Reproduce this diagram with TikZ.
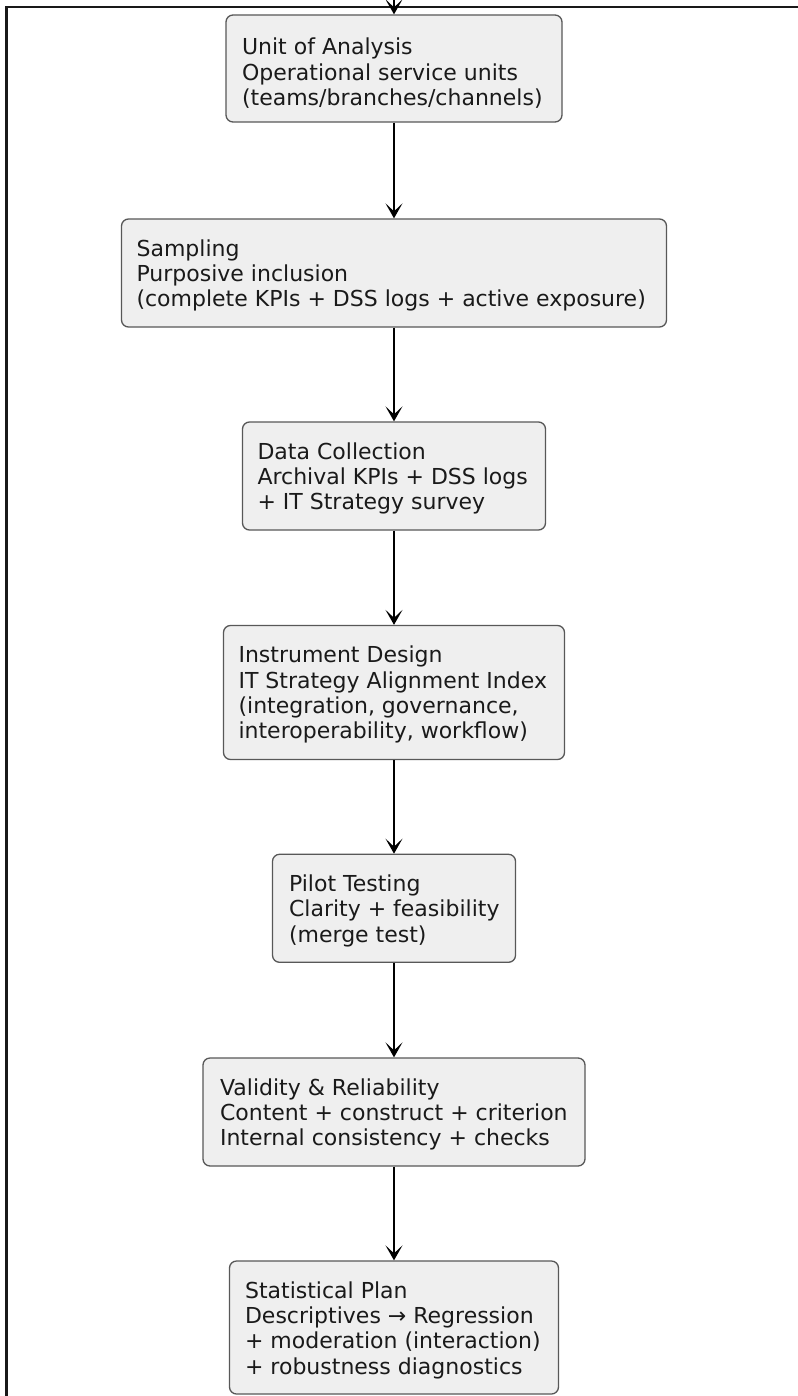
\documentclass[tikz,border=0pt]{standalone}
\usepackage{fontspec}
\setmainfont{DejaVu Sans}
\usetikzlibrary{arrows.meta,calc}

\definecolor{boxfill}{HTML}{EFEFEF}
\definecolor{boxline}{HTML}{585858}
\definecolor{ink}{HTML}{1A1A1A}

\tikzset{
  stage/.style={draw=boxline, line width=1.3pt, fill=boxfill,
    rounded corners=7pt, inner sep=0pt},
  stagetext/.style={anchor=north west, inner sep=0pt, align=left,
    text=ink, font=\fontsize{22}{25.3}\selectfont},
  flow/.style={draw=black, line width=1.6pt,
    -{Stealth[length=15pt,width=17pt,inset=8pt]}},
  frame/.style={draw=black!90, line width=2.2pt}
}

\begin{document}
\begin{tikzpicture}[x=1pt,y=-1pt]
  \useasboundingbox (0,0) rectangle (797,1396);

  % outer frame (top and left edges)
  \coordinate (frameBL) at (6.5,1410);
  \coordinate (frameTL) at (6.5,7);
  \coordinate (frameTR) at (810,7);
  \draw[frame] (frameBL) -- (frameTL) -- (frameTR);

  % process stages
  \node[stage, minimum width=336pt, minimum height=107pt] (unit)  at (394,68.5) {};
  \node[stage, minimum width=545pt, minimum height=108pt] (samp)  at (394,273)  {};
  \node[stage, minimum width=303pt, minimum height=108pt] (data)  at (394,476)  {};
  \node[stage, minimum width=341pt, minimum height=134pt] (instr) at (394,692.5) {};
  \node[stage, minimum width=243pt, minimum height=108pt] (pilot) at (394,908.3) {};
  \node[stage, minimum width=382pt, minimum height=108pt] (valid) at (394,1112) {};
  \node[stage, minimum width=329pt, minimum height=133pt] (stat)  at (394,1327.5) {};

  % stage texts
  \node[stagetext] (unitT) at ($(unit.north west)+(16.5,22.5)$)
    {\strut Unit of Analysis\\Operational service units\\(teams/branches/channels)};
  \node[stagetext] (sampT) at ($(samp.north west)+(15.5,20)$)
    {\strut Sampling\\Purposive inclusion\\(complete KPIs + DSS logs + active exposure)};
  \node[stagetext] (dataT) at ($(data.north west)+(15.5,20)$)
    {\strut Data Collection\\Archival KPIs + DSS logs\\+ IT Strategy survey};
  \node[stagetext] (instrT) at ($(instr.north west)+(15.5,20)$)
    {\strut Instrument Design\\IT Strategy Alignment Index\\(integration, governance,\\interoperability, workflow)};
  \node[stagetext] (pilotT) at ($(pilot.north west)+(17,20)$)
    {\strut Pilot Testing\\Clarity + feasibility\\(merge test)};
  \node[stagetext] (validT) at ($(valid.north west)+(17.5,20)$)
    {\strut Validity \& Reliability\\Content + construct + criterion\\Internal consistency + checks};
  \node[stagetext] (statT) at ($(stat.north west)+(16,20)$)
    {\strut Statistical Plan\\Descriptives → Regression\\+ moderation (interaction)\\+ robustness diagnostics};

  % connectors
  \coordinate (entry) at (394,-12);
  \draw[flow] (entry) -- (unit);
  \draw[flow] (unit) -- (samp);
  \draw[flow] (samp) -- (data);
  \draw[flow] (data) -- (instr);
  \draw[flow] (instr) -- (pilot);
  \draw[flow] (pilot) -- (valid);
  \draw[flow] (valid) -- (stat);
\end{tikzpicture}
\end{document}
